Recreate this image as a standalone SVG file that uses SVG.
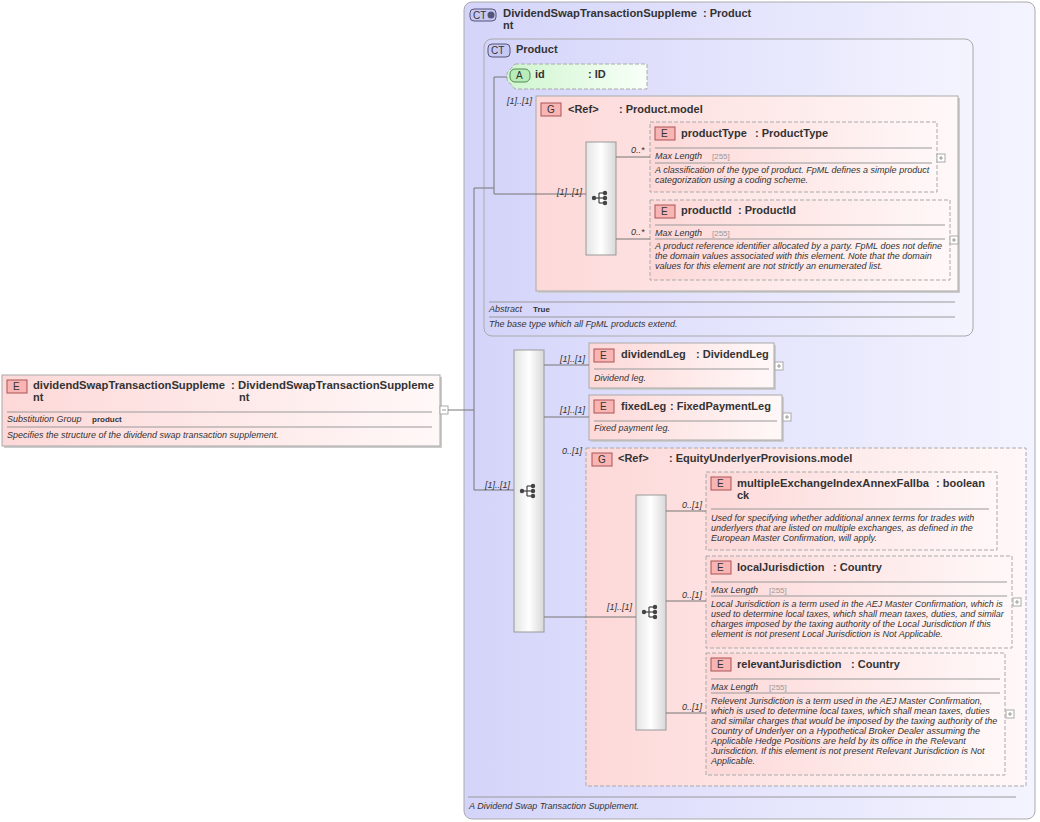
<svg xmlns="http://www.w3.org/2000/svg" width="1040" height="822" viewBox="0 0 1040 822">
<defs>
<linearGradient id="ctg" x1="0" y1="0" x2="1" y2="0"><stop offset="0" stop-color="#d4d4fa"/><stop offset="1" stop-color="#f4f4ff"/></linearGradient>
<linearGradient id="eg" x1="0" y1="0" x2="1" y2="0"><stop offset="0" stop-color="#fdd8d8"/><stop offset="1" stop-color="#fff8f8"/></linearGradient>
<linearGradient id="ag" x1="0" y1="0" x2="1" y2="0"><stop offset="0" stop-color="#cff5cf"/><stop offset="1" stop-color="#f8fff8"/></linearGradient>
<linearGradient id="sg" x1="0" y1="0" x2="1" y2="0"><stop offset="0" stop-color="#e4e4e4"/><stop offset="0.5" stop-color="#ffffff"/><stop offset="1" stop-color="#d8d8d8"/></linearGradient>
<g id="seqicon"><line x1="-7" y1="0" x2="-2" y2="0"/><line x1="-2" y1="-5" x2="-2" y2="5"/><line x1="-2" y1="-5" x2="4" y2="-5"/><line x1="-2" y1="0" x2="4" y2="0"/><line x1="-2" y1="5" x2="4" y2="5"/><circle cx="-7" cy="0" r="1.6"/><circle cx="4" cy="-5" r="1.6"/><circle cx="4" cy="0" r="1.6"/><circle cx="4" cy="5" r="1.6"/></g>
</defs>
<style>
text{font-family:"Liberation Sans",Arial,sans-serif;fill:#333}
.t{font-size:11px;font-weight:bold}
.d{font-size:9px;font-style:italic}
.k{font-size:9px;font-style:italic}
.v{font-size:8px;fill:#999}
.b{font-size:8px;font-weight:bold}
.c{font-size:9px;font-style:italic}
.bd{font-size:10px;fill:#333}
.ct{fill:url(#ctg);stroke:#aaa;stroke-width:1}
.el{fill:url(#eg);stroke:#aaa;stroke-width:1}
.eld{fill:url(#eg);stroke:#aaa;stroke-width:1;stroke-dasharray:4,2}
.sq{fill:url(#sg);stroke:#999;stroke-width:1}
.sep{stroke:#999;stroke-width:1}
.bE{fill:#f9b4b4;stroke:#a55;stroke-width:1}
.bC{fill:#c8c8f4;stroke:#557;stroke-width:1}
.bA{fill:#b8ecb8;stroke:#585;stroke-width:1}
.pl{fill:#fff;stroke:#aaa}
.cn{stroke:#777;stroke-width:1;fill:none}
#seqicon *{stroke:#444;fill:#444;stroke-width:1.2}
</style>

<g id="outerCT">
<rect class="ct" x="464" y="2" width="571" height="817" rx="8"/>
<rect class="bC" x="470" y="9" width="26" height="12" rx="4"/><text class="bd" x="473" y="19">CT</text><circle cx="491" cy="15" r="3.5" fill="#557"/>
<text class="t" x="503" y="17" textLength="194" lengthAdjust="spacingAndGlyphs">DividendSwapTransactionSuppleme</text><text class="t" x="703" y="17">: Product</text>
<text class="t" x="503" y="29">nt</text>
<line class="sep" x1="468" y1="797" x2="1016" y2="797"/>
<text class="d" x="469" y="809">A Dividend Swap Transaction Supplement.</text>
</g>

<g id="productCT">
<rect class="ct" x="484" y="39" width="489" height="297" rx="8"/>
<rect class="bC" x="488" y="44" width="22" height="13" rx="4"/><text class="bd" x="491" y="54">CT</text>
<text class="t" x="516" y="53">Product</text>
<line class="sep" x1="489" y1="302" x2="955" y2="302"/>
<text class="k" x="489" y="312">Abstract</text><text class="b" x="533" y="312">True</text>
<line class="sep" x1="489" y1="317" x2="955" y2="317"/>
<text class="d" x="489" y="327">The base type which all FpML products extend.</text>
</g>

<g id="attrId">
<polygon points="515,64 647,64 647,89 515,89 507,80 507,73" fill="url(#ag)" stroke="#aaa" stroke-dasharray="4,2"/>
<rect class="bA" x="510" y="69" width="20" height="13" rx="5"/><text class="bd" x="516" y="79">A</text>
<text class="t" x="535" y="78">id</text><text class="t" x="588" y="78">: ID</text>
</g>

<g id="productModel">
<rect x="538" y="98" width="422" height="195" fill="#ccc"/>
<rect class="el" x="536" y="96" width="422" height="195"/>
<rect class="bE" x="541" y="103" width="20" height="13"/><text class="bd" x="547" y="113">G</text>
<text class="t" x="568" y="113">&lt;Ref&gt;</text><text class="t" x="619" y="113">: Product.model</text>
<rect class="sq" x="586" y="142" width="30" height="113"/>
<use href="#seqicon" x="601" y="198"/>
</g>

<g id="productType">
<rect class="eld" x="650" y="122" width="287" height="70"/>
<rect class="bE" x="655" y="127" width="20" height="13"/><text class="bd" x="661" y="137">E</text>
<text class="t" x="681" y="137">productType</text><text class="t" x="755" y="137">: ProductType</text>
<line class="sep" x1="655" y1="148" x2="932" y2="148"/>
<text class="k" x="655" y="159">Max Length</text><text class="v" x="712" y="159">[255]</text>
<line class="sep" x1="655" y1="163" x2="932" y2="163"/>
<text class="d" x="655" y="173">A classification of the type of product. FpML defines a simple product</text>
<text class="d" x="655" y="183">categorization using a coding scheme.</text>
<rect class="pl" x="937" y="154" width="8" height="8"/><path d="M939 158h4M941 156v4" stroke="#999"/>
</g>

<g id="productId">
<rect class="eld" x="650" y="200" width="300" height="80"/>
<rect class="bE" x="655" y="205" width="20" height="13"/><text class="bd" x="661" y="215">E</text>
<text class="t" x="681" y="214">productId</text><text class="t" x="738" y="214">: ProductId</text>
<line class="sep" x1="655" y1="225" x2="945" y2="225"/>
<text class="k" x="655" y="236">Max Length</text><text class="v" x="712" y="236">[255]</text>
<line class="sep" x1="655" y1="239" x2="945" y2="239"/>
<text class="d" x="655" y="249">A product reference identifier allocated by a party. FpML does not define</text>
<text class="d" x="655" y="259">the domain values associated with this element. Note that the domain</text>
<text class="d" x="655" y="269">values for this element are not strictly an enumerated list.</text>
<rect class="pl" x="950" y="236" width="8" height="8"/><path d="M952 240h4M954 238v4" stroke="#999"/>
</g>

<g id="rootElement">
<rect x="4" y="377" width="438" height="71" fill="#ccc"/>
<rect class="el" x="2" y="375" width="438" height="71"/>
<rect class="bE" x="7" y="380" width="20" height="13"/><text class="bd" x="13" y="390">E</text>
<text class="t" x="33" y="389" textLength="192" lengthAdjust="spacingAndGlyphs">dividendSwapTransactionSuppleme</text><text class="t" x="33" y="401">nt</text>
<text class="t" x="231" y="389" textLength="203" lengthAdjust="spacingAndGlyphs">: DividendSwapTransactionSuppleme</text><text class="t" x="239" y="401">nt</text>
<line class="sep" x1="7" y1="412" x2="432" y2="412"/>
<text class="k" x="7" y="422">Substitution Group</text><text class="b" x="92" y="422">product</text>
<line class="sep" x1="7" y1="427" x2="432" y2="427"/>
<text class="d" x="7" y="438">Specifies the structure of the dividend swap transaction supplement.</text>
<rect class="pl" x="440" y="406" width="8" height="8"/><path d="M442 410h4" stroke="#999"/>
</g>

<g id="mainSeq">
<rect class="sq" x="514" y="350" width="30" height="282"/>
<use href="#seqicon" x="529" y="491"/>
</g>

<g id="dividendLeg">
<rect x="591" y="345" width="185" height="45" fill="#ccc"/>
<rect class="el" x="589" y="343" width="185" height="45"/>
<rect class="bE" x="594" y="349" width="20" height="13"/><text class="bd" x="600" y="359">E</text>
<text class="t" x="621" y="358">dividendLeg</text><text class="t" x="696" y="358">: DividendLeg</text>
<line class="sep" x1="594" y1="369" x2="769" y2="369"/>
<text class="d" x="594" y="381">Dividend leg.</text>
<rect class="pl" x="775" y="362" width="8" height="8"/><path d="M777 366h4M779 364v4" stroke="#999"/>
</g>

<g id="fixedLeg">
<rect x="591" y="397" width="193" height="45" fill="#ccc"/>
<rect class="el" x="589" y="395" width="193" height="45"/>
<rect class="bE" x="594" y="400" width="20" height="13"/><text class="bd" x="600" y="410">E</text>
<text class="t" x="621" y="410">fixedLeg</text><text class="t" x="670" y="410">: FixedPaymentLeg</text>
<line class="sep" x1="594" y1="421" x2="777" y2="421"/>
<text class="d" x="594" y="431">Fixed payment leg.</text>
<rect class="pl" x="783" y="413" width="8" height="8"/><path d="M785 417h4M787 415v4" stroke="#999"/>
</g>

<g id="equityModel">
<rect class="eld" x="586" y="448" width="440" height="338"/>
<rect class="bE" x="592" y="453" width="20" height="13"/><text class="bd" x="598" y="463">G</text>
<text class="t" x="618" y="462">&lt;Ref&gt;</text><text class="t" x="669" y="462">: EquityUnderlyerProvisions.model</text>
<rect class="sq" x="636" y="495" width="30" height="235"/>
<use href="#seqicon" x="651" y="612"/>
</g>

<g id="multipleExchange">
<rect class="eld" x="706" y="472" width="291" height="78"/>
<rect class="bE" x="711" y="477" width="20" height="13"/><text class="bd" x="717" y="487">E</text>
<text class="t" x="737" y="487" textLength="192" lengthAdjust="spacingAndGlyphs">multipleExchangeIndexAnnexFallba</text><text class="t" x="737" y="499">ck</text>
<text class="t" x="936" y="487">: boolean</text>
<line class="sep" x1="711" y1="509" x2="989" y2="509"/>
<text class="d" x="711" y="521">Used for specifying whether additional annex terms for trades with</text>
<text class="d" x="711" y="531">underlyers that are listed on multiple exchanges, as defined in the</text>
<text class="d" x="711" y="541">European Master Confirmation, will apply.</text>
</g>

<g id="localJurisdiction">
<rect class="eld" x="706" y="556" width="306" height="92"/>
<rect class="bE" x="711" y="561" width="20" height="13"/><text class="bd" x="717" y="571">E</text>
<text class="t" x="737" y="571">localJurisdiction</text><text class="t" x="833" y="571">: Country</text>
<line class="sep" x1="711" y1="582" x2="1007" y2="582"/>
<text class="k" x="711" y="593">Max Length</text><text class="v" x="769" y="593">[255]</text>
<line class="sep" x1="711" y1="596" x2="1007" y2="596"/>
<text class="d" x="711" y="607">Local Jurisdiction is a term used in the AEJ Master Confirmation, which is</text>
<text class="d" x="711" y="617">used to determine local taxes, which shall mean taxes, duties, and similar</text>
<text class="d" x="711" y="627">charges imposed by the taxing authority of the Local Jurisdiction If this</text>
<text class="d" x="711" y="637">element is not present Local Jurisdiction is Not Applicable.</text>
<rect class="pl" x="1013" y="598" width="8" height="8"/><path d="M1015 602h4M1017 600v4" stroke="#999"/>
</g>

<g id="relevantJurisdiction">
<rect class="eld" x="706" y="653" width="299" height="122"/>
<rect class="bE" x="711" y="658" width="20" height="13"/><text class="bd" x="717" y="668">E</text>
<text class="t" x="737" y="668">relevantJurisdiction</text><text class="t" x="851" y="668">: Country</text>
<line class="sep" x1="711" y1="679" x2="1000" y2="679"/>
<text class="k" x="711" y="690">Max Length</text><text class="v" x="769" y="690">[255]</text>
<line class="sep" x1="711" y1="693" x2="1000" y2="693"/>
<text class="d" x="711" y="704">Relevent Jurisdiction is a term used in the AEJ Master Confirmation,</text>
<text class="d" x="711" y="714">which is used to determine local taxes, which shall mean taxes, duties</text>
<text class="d" x="711" y="724">and similar charges that would be imposed by the taxing authority of the</text>
<text class="d" x="711" y="734">Country of Underlyer on a Hypothetical Broker Dealer assuming the</text>
<text class="d" x="711" y="744">Applicable Hedge Positions are held by its office in the Relevant</text>
<text class="d" x="711" y="754">Jurisdiction. If this element is not present Relevant Jurisdiction is Not</text>
<text class="d" x="711" y="764">Applicable.</text>
<rect class="pl" x="1006" y="710" width="8" height="8"/><path d="M1008 714h4M1010 712v4" stroke="#999"/>
</g>

<g id="connectors">
<path class="cn" d="M448 410H474M474 188V490H514M474 188H494M494 77H507M494 77V194H586"/>
<path class="cn" d="M616 157H650M616 239H650"/>
<path class="cn" d="M544 365H589M544 417H589M544 617H636"/>
<path class="cn" d="M666 511H706M666 601H706M666 713H706"/>
<text class="c" x="507" y="104">[1]..[1]</text>
<text class="c" x="557" y="195">[1]..[1]</text>
<text class="c" x="631" y="153">0..*</text>
<text class="c" x="631" y="235">0..*</text>
<text class="c" x="485" y="488">[1]..[1]</text>
<text class="c" x="560" y="362">[1]..[1]</text>
<text class="c" x="560" y="413">[1]..[1]</text>
<text class="c" x="562" y="454">0..[1]</text>
<text class="c" x="607" y="610">[1]..[1]</text>
<text class="c" x="682" y="508">0..[1]</text>
<text class="c" x="682" y="598">0..[1]</text>
<text class="c" x="682" y="710">0..[1]</text>
</g>
</svg>
